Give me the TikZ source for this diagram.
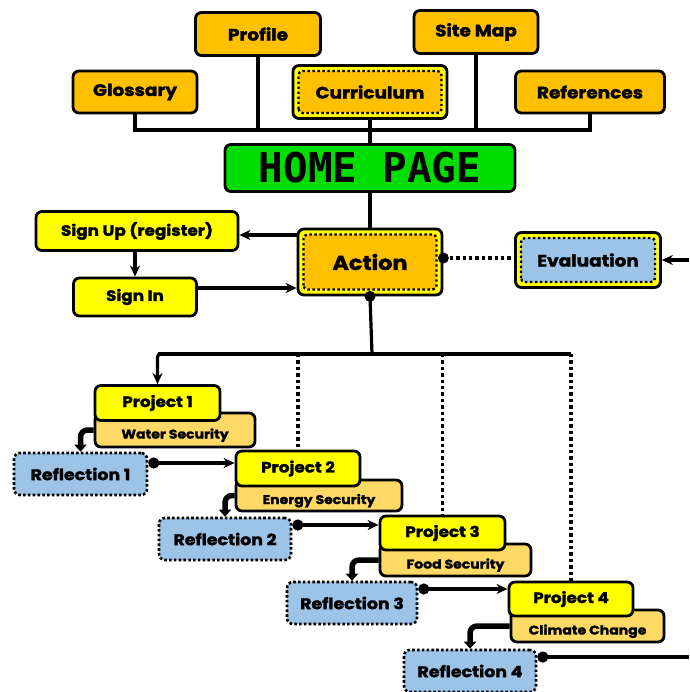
\documentclass[tikz,border=0pt]{standalone}
\usepackage{fontspec}
\usetikzlibrary{arrows.meta}
\setmainfont{Poppins}[FakeStretch=1.12, BoldFeatures={FakeBold=1.8}]
\newfontfamily\homefont{DejaVu Sans Mono}
\definecolor{menu orange}{HTML}{FFC000}
\definecolor{title yellow}{HTML}{FFFF00}
\definecolor{sub orange}{HTML}{FFD966}
\definecolor{reflect blue}{HTML}{9DC3E6}
\definecolor{home green}{HTML}{00DD00}
\tikzset{base/.style={draw=black, line width=2.8pt, rounded corners=6pt, inner sep=0pt,
        font=\bfseries\fontsize{16.5}{18}\selectfont},
    menubox/.style={base, fill=menu orange},
    ringbox/.style={base, fill=title yellow, path picture={
        \draw[fill=#1, line width=2.4pt, dash pattern=on 2.4pt off 2.6pt, rounded corners=4pt]
        ([shift={(5.5pt,5.5pt)}]path picture bounding box.south west) rectangle
        ([shift={(-5.5pt,-5.5pt)}]path picture bounding box.north east);}},
    yellowbox/.style={base, fill=title yellow, font=\bfseries\fontsize{15}{17}\selectfont},
    subbox/.style={base, fill=sub orange, text height=17pt, text depth=0pt,
        font=\bfseries\fontsize{12.5}{14}\selectfont},
    reflectbox/.style={fill=reflect blue, draw=black, line width=2.6pt, dash pattern=on 2.6pt off 2.2pt,
        rounded corners=6pt, font=\bfseries\fontsize{15.5}{17}\selectfont},
    conn/.style={draw=black, line width=3.2pt},
    dotline/.style={draw=black, line width=3.4pt, dash pattern=on 3.4pt off 3pt},
    arr/.style={conn, -{Stealth[length=11pt,width=10pt,inset=3.5pt]}},
    dotarr/.style={conn, {Circle[length=11pt]}-{Stealth[length=11pt,width=10pt,inset=3.5pt]}},
    bendarr/.style={draw=black, line width=5.5pt, rounded corners=7pt, -{Triangle[length=7pt,width=12pt]}}}
\begin{document}
\begin{tikzpicture}[x=1pt, y=-1pt]
\useasboundingbox (0,0) rectangle (689,692);
% menu
\node[menubox, minimum width=124pt, minimum height=42pt] (glossary) at (135,92) {Glossary};
\node[menubox, minimum width=125pt, minimum height=43pt] (profile) at (258,34) {Profile};
\node[menubox, minimum width=124pt, minimum height=43pt] (sitemap) at (476,32) {Site Map};
\node[menubox, minimum width=149pt, minimum height=42pt] (references) at (590,92) {References};
\node[ringbox=menu orange, minimum width=154pt, minimum height=53pt] (curriculum) at (370,92) {Curriculum};
\node[base, fill=home green, minimum width=290pt, minimum height=47pt,
    font=\homefont\bfseries\fontsize{41}{41}\selectfont] (home) at (370,168) {HOME PAGE};
\coordinate (bus) at (370,130);
\draw[conn] (glossary.south) |- (bus) -| (references.south);
\draw[conn] (profile.south) -- (profile.south |- bus);
\draw[conn] (sitemap.south) -- (sitemap.south |- bus);
\draw[conn] (curriculum.south) -- (home.north);
% action
\node[ringbox=menu orange, minimum width=144pt, minimum height=66pt,
    font=\bfseries\fontsize{20}{22}\selectfont] (action) at (370,262) {Action};
\node[yellowbox, minimum width=202pt, minimum height=39pt] (signup) at (137,231) {Sign Up (register)};
\node[yellowbox, minimum width=123pt, minimum height=38pt] (signin) at (135,297) {Sign In};
\node[ringbox=reflect blue, minimum width=145pt, minimum height=55pt] (evaluation) at (588,260) {Evaluation};
\coordinate (evalin) at (689,260);
\draw[conn] (home.south) -- (action.north);
\draw[arr] ([yshift=-4pt]action.west |- signup.east) -- ([yshift=-4pt]signup.east);
\draw[arr] (signin.north |- signup.south) -- (signin.north);
\draw[arr] ([yshift=9pt]signin.east) -- ([yshift=9pt]signin.east -| action.west);
\draw[dotline] ([yshift=4pt]action.east) -- ([yshift=4pt]action.east -| evaluation.west);
\fill ([yshift=4pt]action.east) circle (5.5pt);
\draw[arr] (evalin) -- (evaluation.east);
% projects
\node[subbox, minimum width=160pt, minimum height=34pt] (p1s) at (175,430) {Water Security};
\node[yellowbox, minimum width=125pt, minimum height=35pt] (p1) at (157.5,403) {Project 1};
\node[subbox, minimum width=166pt, minimum height=31pt] (p2s) at (319,495.5) {Energy Security};
\node[yellowbox, minimum width=124pt, minimum height=35pt] (p2) at (298,468.5) {Project 2};
\node[subbox, minimum width=151pt, minimum height=32pt] (p3s) at (455.5,560) {Food Security};
\node[yellowbox, minimum width=125pt, minimum height=34pt] (p3) at (442.5,533) {Project 3};
\node[subbox, minimum width=153pt, minimum height=32pt] (p4s) at (587.5,626) {Climate Change};
\node[yellowbox, minimum width=124pt, minimum height=34pt] (p4) at (571,599) {Project 4};
\node[reflectbox, minimum width=133pt, minimum height=42pt] (r1) at (80.5,474) {Reflection 1};
\node[reflectbox, minimum width=132pt, minimum height=42pt] (r2) at (225,539) {Reflection 2};
\node[reflectbox, minimum width=130pt, minimum height=42pt] (r3) at (352,603) {Reflection 3};
\node[reflectbox, minimum width=132pt, minimum height=42pt] (r4) at (470,671) {Reflection 4};
\coordinate (split) at (372,354);
\coordinate (r4out) at (689,657);
\draw[conn] (action.south) -- (split);
\fill (action.south) circle (5.5pt);
\draw[conn, rounded corners=3pt] (p1.north |- split) -- (p4.north |- split);
\draw[arr, rounded corners=3pt] (split) -| (p1.north);
\foreach \p in {p2,p3,p4}
    \draw[dotline] (\p.north |- split) -- (\p.north);
\foreach \s/\r in {p1s/r1,p2s/r2,p3s/r3,p4s/r4}
    \draw[bendarr] (\s.west) -| (\r.north);
\draw[dotarr] ([yshift=11pt]r1.east) -- ([yshift=11pt]r1.east -| p2.west);
\draw[dotarr] ([yshift=14pt]r2.east) -- ([yshift=14pt]r2.east -| p3.west);
\draw[dotarr] ([yshift=14pt]r3.east) -- ([yshift=14pt]r3.east -| p4.west);
\draw[conn, {Circle[length=11pt]}-] ([yshift=14pt]r4.east) -- (r4out);
\end{tikzpicture}
\end{document}
